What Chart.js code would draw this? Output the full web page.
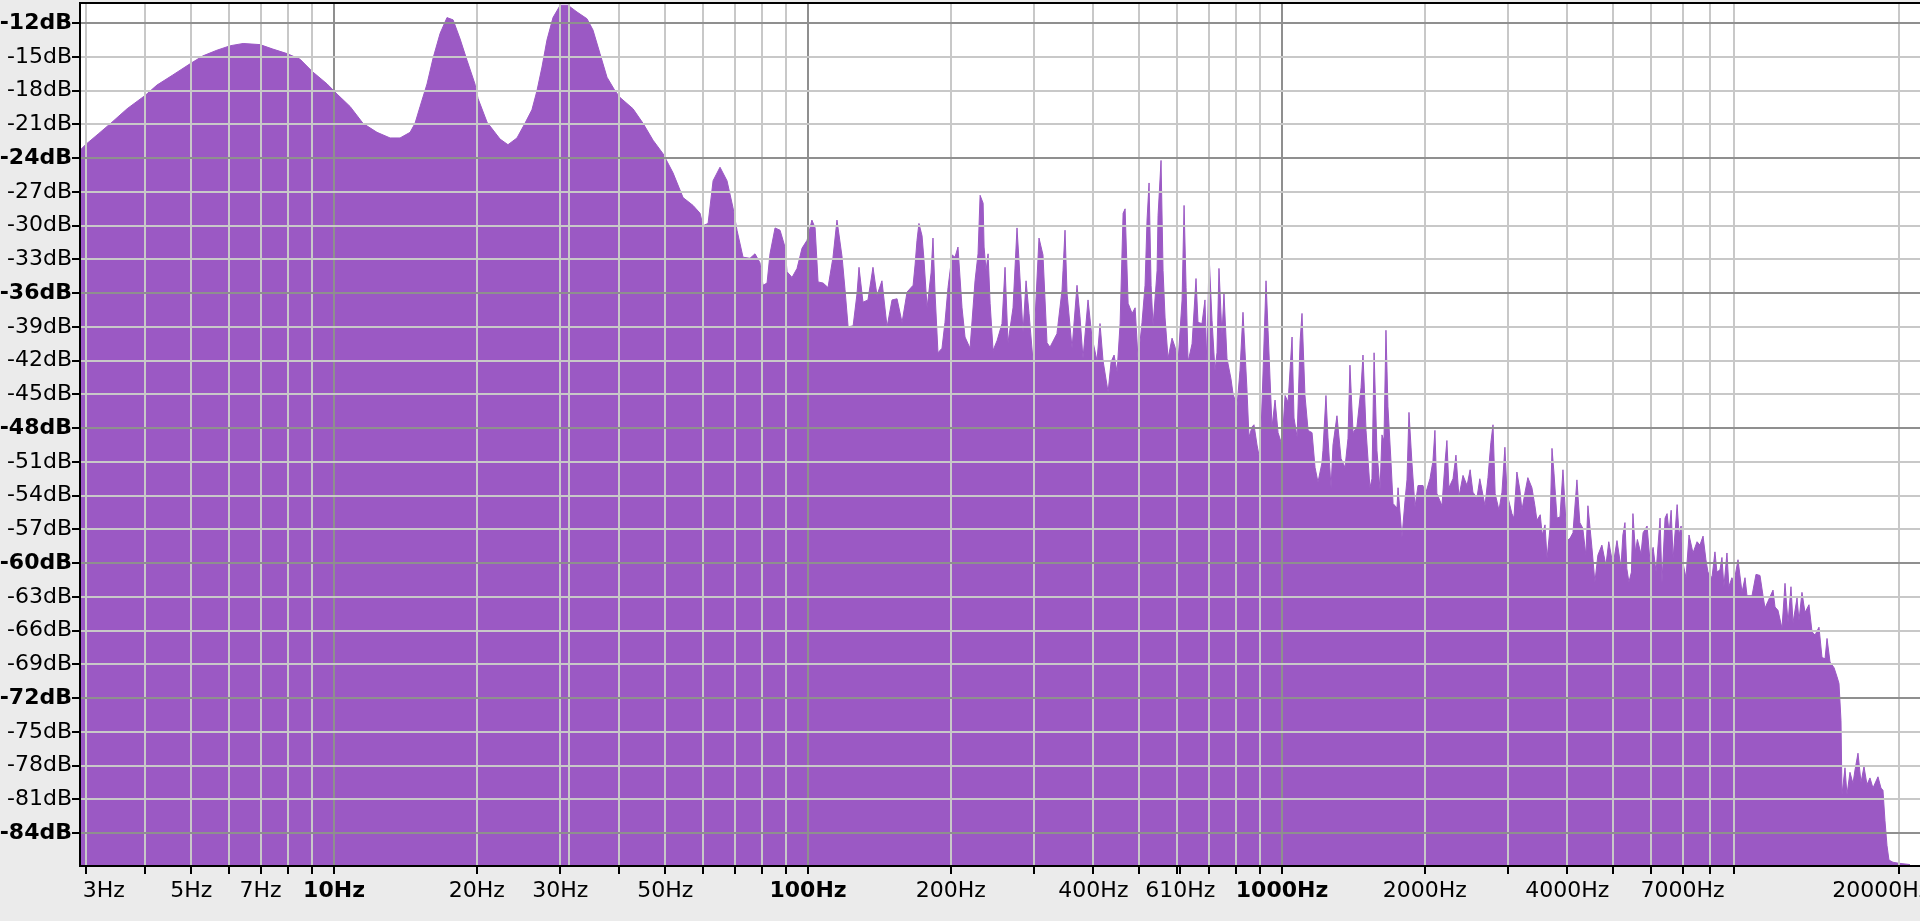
<!doctype html>
<html>
  <head>
    <script src="https://cdnjs.cloudflare.com/ajax/libs/Chart.js/4.0.1/chart.umd.js"></script>
    <style>
      body { margin: 0; background: #ebebeb; overflow: hidden; }
    </style>
    <script>
      // spectrum: frequency (Hz) and level (dB)
      let freqHz = [
        2.911, 2.99, 3.19, 3.40, 3.66, 4.0, 4.23, 4.57, 4.97, 5.29, 5.66, 6.04, 6.43, 6.98, 7.43, 7.96, 8.48, 9.0, 9.67,
        10.15, 10.81, 11.51, 12.32, 13.13, 13.78, 14.47, 14.82, 15.19, 15.71, 16.18, 16.74, 17.31, 17.83, 18.45, 19.08, 19.83,
        20.13, 21.03, 22.40, 23.28, 24.32, 25.28, 26.15, 26.80, 27.46, 28.13, 28.97, 30.0, 31.16, 32.55, 34.17, 35.18, 36.40,
        37.66, 39.15, 40.12, 42.73, 44.87, 47.10, 49.44, 51.90, 54.49, 57.21, 59.19, 60.06, 61.54, 63.05, 65.21, 67.46, 69.46,
        70.82, 72.92, 75.44, 77.29, 79.19, 80.35, 81.95, 83.13, 85.20, 87.28, 89.43, 90.31, 92.53, 94.80, 97.13, 99.52,
        101.9, 103.5, 105.0, 107.6, 110.2, 112.9, 115.1, 118.0, 119.7, 121.5, 124.5, 126.9, 128.1, 130.6, 133.8, 137.1,
        139.8, 143.2, 146.8, 150.4, 154.1, 157.9, 161.8, 166.6, 168.2, 169.8, 171.4, 174.0, 175.7, 178.3, 181.8, 183.5,
        185.3, 188.0, 191.7, 194.5, 197.4, 201.3, 204.2, 207.2, 211.3, 214.4, 219.7, 225.1, 228.4, 230.7, 234.1, 235.2,
        237.5, 239.8, 242.2, 245.7, 250.6, 256.6, 260.4, 264.2, 270.7, 276.0, 278.7, 284.2, 288.4, 292.6, 298.3, 307.1,
        313.1, 319.3, 323.9, 335.1, 343.5, 345.1, 348.5, 351.9, 360.6, 369.4, 374.8, 380.3, 389.7, 397.2, 407.1, 413.1,
        419.2, 429.6, 435.9, 442.3, 448.8, 455.4, 462.1, 466.6, 473.5, 482.8, 489.9, 497.1, 506.6, 514.1, 519.1, 524.2,
        529.4, 534.5, 545.0, 547.6, 555.6, 561.1, 566.6, 574.9, 586.1, 594.8, 603.5, 615.4, 621.4, 627.5, 633.6, 646.0,
        658.5, 664.9, 677.9, 687.8, 694.6, 701.4, 711.7, 722.1, 729.1, 736.2, 747.0, 754.3, 765.4, 780.3, 788.0, 803.5,
        815.3, 827.3, 843.5, 851.8, 864.3, 872.7, 885.6, 898.7, 911.9, 925.3, 934.4, 952.7, 966.7, 981.0,
        1000, 1015, 1030, 1050, 1060, 1076, 1092, 1102, 1118, 1135, 1157, 1174, 1191, 1214, 1220, 1238, 1250, 1269, 1281,
        1306, 1332, 1358, 1378, 1391, 1412, 1439, 1468, 1482, 1504, 1533, 1548, 1564, 1586, 1610, 1625, 1641, 1657, 1673,
        1698, 1715, 1748, 1757, 1791, 1818, 1835, 1853, 1880, 1908, 1936, 1984, 2003, 2052, 2082, 2102, 2122, 2175, 2207,
        2228, 2250, 2295, 2328, 2362, 2409, 2457, 2494, 2528, 2578, 2614, 2681, 2720, 2758, 2787, 2816, 2869, 2911, 2953,
        2983, 3055, 3085, 3130, 3176, 3207, 3253, 3301, 3367, 3416, 3450, 3506, 3540, 3588, 3624, 3676, 3712, 3748, 3803,
        3859, 3915, 3992, 4051, 4110, 4190, 4249, 4311, 4376, 4420, 4506, 4572, 4639, 4730, 4823, 4891, 4993, 5090, 5189,
        5238, 5291, 5340, 5394, 5460, 5500, 5567, 5620, 5720, 5778, 5891, 5977, 6066, 6154, 6275, 6333, 6429, 6492, 6556,
        6622, 6686, 6817, 6883, 6950, 7014, 7117, 7222, 7364, 7510, 7615, 7732, 7841, 7918, 8074, 8192, 8272, 8393, 8475,
        8556, 8684, 8766, 8895, 8987, 9163, 9343, 9480, 9572, 9808, 10000, 10196, 10346, 10447, 10600, 10862, 10967, 11127,
        11347, 11513, 11683, 11852, 11971, 12205, 12322, 12503, 12688, 12936, 13126, 13320, 13580, 13780, 13985, 14120,
        14327, 14610, 14822, 14966, 15112, 15185, 15408, 15559, 15786, 16018, 16176, 16413, 16653, 16898, 17146, 17397,
        17652, 18086, 18352, 18530, 18712, 18894, 19077, 19454, 20125, 21130
      ];
      let levelDb = [
        -23.3, -22.8, -21.8, -20.8, -19.6, -18.4, -17.5, -16.6, -15.6, -14.9, -14.4, -14.0, -13.8, -13.9, -14.3, -14.7, -15.2, -16.3, -17.4,
        -18.3, -19.4, -20.9, -21.7, -22.2, -22.2, -21.7, -20.9, -19.4, -17.4, -15.1, -12.9, -11.5, -11.7, -13.4, -15.3, -17.4,
        -18.7, -20.8, -22.3, -22.8, -22.2, -20.9, -19.7, -18.0, -15.9, -13.5, -11.5, -10.4, -10.4, -11.0, -11.6, -12.6, -14.7,
        -16.8, -18.0, -18.6, -19.6, -20.9, -22.4, -23.6, -25.3, -27.5, -28.2, -28.9, -30.0, -29.8, -26.0, -24.8, -26.0, -28.4,
        -30.4, -32.8, -32.9, -32.5, -33.3, -35.3, -35.1, -32.5, -30.2, -30.4, -31.9, -34.1, -34.6, -33.8, -32.0, -31.3,
        -29.5, -30.2, -35.0, -35.1, -35.5, -32.8, -29.5, -32.8, -35.7, -39.0, -38.9, -36.0, -33.7, -36.8, -36.6, -33.7,
        -36.2, -34.9, -39.0, -36.6, -36.5, -38.6, -35.9, -35.3, -33.5, -31.3, -29.8, -30.9, -33.1, -37.3, -34.2, -31.1,
        -35.9, -41.3, -40.9, -38.6, -35.5, -32.6, -32.8, -31.9, -37.3, -39.9, -40.9, -34.9, -32.5, -27.3, -28.0, -31.9,
        -34.0, -32.5, -36.9, -41.1, -40.2, -38.7, -33.7, -40.4, -37.3, -30.2, -33.1, -39.5, -34.9, -37.8, -42.0, -31.1,
        -32.6, -40.4, -40.8, -39.6, -35.7, -34.0, -30.4, -36.0, -40.9, -35.3, -38.1, -41.8, -36.6, -39.9, -42.0, -38.7,
        -42.0, -44.8, -42.1, -41.5, -43.0, -38.7, -28.9, -28.5, -36.9, -37.8, -37.3, -42.0, -38.6, -35.3, -29.5, -26.2,
        -35.3, -38.9, -34.0, -29.1, -24.2, -34.0, -38.2, -41.8, -40.0, -40.8, -42.1, -36.6, -28.2, -35.5, -42.1, -40.5,
        -34.7, -38.6, -38.7, -36.6, -42.7, -32.5, -38.4, -42.9, -41.3, -33.8, -39.7, -36.0, -41.8, -43.6, -44.9, -46.1,
        -42.9, -37.7, -44.6, -48.8, -47.9, -47.7, -49.5, -50.9, -43.1, -34.9, -39.3, -47.9, -45.5, -48.4,
        -49.5, -45.1, -45.7, -39.9, -47.1, -48.8, -40.2, -37.8, -45.1, -48.2, -48.4, -51.5, -52.8, -51.1, -50.0, -45.1, -48.8, -53.3, -49.5,
        -46.9, -50.7, -51.5, -48.9, -42.4, -48.4, -47.9, -44.4, -41.5, -48.2, -53.3, -52.5, -41.3, -50.0, -53.5, -48.6, -49.1, -39.3, -46.1,
        -51.0, -54.7, -55.1, -53.3, -57.7, -54.4, -52.6, -46.6, -51.1, -55.0, -53.1, -53.1, -54.0, -52.5, -50.9, -48.2, -53.8, -54.9, -51.1,
        -49.1, -53.3, -52.5, -50.4, -54.1, -52.2, -53.1, -51.7, -53.7, -54.2, -52.5, -54.9, -52.4, -49.3, -47.7, -53.8, -55.3, -53.7, -49.7,
        -53.8, -55.6, -56.0, -51.9, -53.5, -55.3, -53.8, -52.4, -53.3, -54.9, -56.2, -55.7, -57.5, -56.6, -59.6, -56.9, -49.8, -52.0, -56.0,
        -55.9, -51.7, -58.0, -57.8, -57.3, -52.6, -56.4, -56.9, -59.3, -54.9, -58.6, -61.7, -59.3, -58.4, -60.2, -58.1, -60.2, -58.0, -60.4,
        -57.5, -56.4, -60.5, -61.7, -60.8, -55.6, -59.0, -57.9, -59.2, -57.3, -56.7, -59.9, -58.6, -60.8, -56.0, -61.8, -56.0, -55.6, -57.3,
        -55.3, -59.6, -54.8, -57.5, -56.7, -60.0, -61.3, -57.5, -59.1, -58.1, -58.4, -57.6, -59.7, -60.8, -61.3, -59.0, -60.8, -60.6, -59.5,
        -62.1, -59.1, -62.1, -61.3, -61.7, -59.7, -62.6, -61.3, -62.9, -62.9, -61.0, -61.1, -62.9, -64.0, -63.4, -62.4, -63.9, -64.2,
        -65.8, -61.8, -65.3, -62.1, -65.3, -63.1, -65.1, -62.6, -64.4, -63.7, -66.1, -66.4, -65.7, -68.4, -68.5, -66.7,
        -68.8, -69.3, -70.1, -70.7, -74.0, -80.6, -78.2, -80.6, -78.6, -79.6, -78.4, -76.9, -79.5, -78.1, -79.7, -79.1,
        -80.0, -79.0, -80.0, -80.2, -82.9, -85.1, -86.4, -86.6, -86.7, -86.8
      ];

      // axis ticks; an empty text means a tick or grid line without a label
      let xTickValues = [3, 4, 5, 6, 7, 8, 9, 10, 20, 30, 31.3, 40, 50, 60, 70, 80, 90, 100, 200, 300, 400, 500, 600, 610,
        700, 800, 900, 1000, 2000, 3000, 4000, 5000, 6000, 7000, 8000, 9000, 20000];
      let xTickText = ['3Hz', '', '5Hz', '', '7Hz', '', '', '10Hz', '20Hz', '30Hz', '', '', '50Hz', '', '', '', '', '100Hz',
        '200Hz', '', '400Hz', '', '', '610Hz', '', '', '', '1000Hz', '2000Hz', '', '4000Hz', '', '', '7000Hz', '', '', '20000Hz'];
      let xMajor = [10, 100, 1000];
      let yTickValues = [-12, -15, -18, -21, -24, -27, -30, -33, -36, -39, -42, -45, -48, -51, -54, -57, -60, -63, -66,
        -69, -72, -75, -78, -81, -84];
      let yMajor = [-12, -24, -36, -48, -60, -72, -84];

      let purple = '#9b59c4';
      let chart1;

      function tickVal(c) {
        return c && c.tick ? c.tick.value : null;
      }

      // white plot area and the black top edge
      let framePlugin = {
        id: 'frame',
        beforeDraw(chart) {
          let a = chart.chartArea, ctx = chart.ctx;
          ctx.save();
          ctx.fillStyle = '#ffffff';
          ctx.fillRect(a.left, a.top, a.right - a.left, a.bottom - a.top);
          ctx.restore();
        },
        afterDraw(chart) {
          let a = chart.chartArea, ctx = chart.ctx;
          ctx.save();
          ctx.strokeStyle = '#000';
          ctx.lineWidth = 2;
          ctx.beginPath();
          ctx.moveTo(a.left - 1, a.top);
          ctx.lineTo(a.right, a.top);
          ctx.stroke();
          ctx.restore();
        }
      };

      function startPage() {
        let points = freqHz.map((f, i) => ({ x: f, y: levelDb[i] }));
        chart1 = new Chart(document.getElementById('c1'), {
          type: 'line',
          data: {
            datasets: [{
              data: points,
              fill: 'start',
              backgroundColor: purple,
              borderColor: purple,
              borderWidth: 1,
              pointRadius: 0,
              tension: 0
            }]
          },
          options: {
            responsive: false,
            animation: false,
            layout: { padding: { top: 3, left: 0, right: 0, bottom: 0 } },
            plugins: { legend: { display: false }, tooltip: { enabled: false } },
            scales: {
              x: {
                type: 'logarithmic',
                min: 2.911,
                max: 22182,
                afterBuildTicks: s => { s.ticks = xTickValues.map(v => ({ value: v })); },
                afterFit: s => { s.height = 55; s.paddingLeft = 0; s.paddingRight = 0; },
                border: { color: '#000', width: 2, z: 2 },
                grid: {
                  z: 1,
                  lineWidth: 2,
                  tickLength: 8,
                  tickWidth: 2,
                  color: c => tickVal(c) == 610 ? 'rgba(0,0,0,0)' : (xMajor.includes(tickVal(c)) ? '#8f8f8f' : '#c8c8c8'),
                  tickColor: c => tickVal(c) == 31.3 ? 'rgba(0,0,0,0)' : '#000'
                },
                ticks: {
                  autoSkip: false,
                  maxRotation: 0,
                  padding: 4,
                  color: '#000',
                  font: c => ({ family: 'DejaVu Sans', size: 22, weight: xMajor.includes(tickVal(c)) ? 'bold' : 'normal' }),
                  callback: (v, i) => {
                    let t = xTickText[i];
                    // the end labels sit pushed inwards, as in the picture
                    if (i == 0) return '     ' + t;
                    if (i == xTickValues.length - 1) return t + '     ';
                    return t;
                  }
                }
              },
              y: {
                min: -86.93,
                max: -10.2,
                afterBuildTicks: s => { s.ticks = yTickValues.map(v => ({ value: v })); },
                afterFit: s => { s.width = 80; s.paddingTop = 0; s.paddingBottom = 0; },
                border: { color: '#000', width: 2, z: 2 },
                grid: {
                  z: 1,
                  lineWidth: 2,
                  tickLength: 8,
                  tickWidth: 2,
                  tickColor: '#000',
                  color: c => yMajor.includes(tickVal(c)) ? '#8f8f8f' : '#c8c8c8'
                },
                ticks: {
                  padding: 0,
                  color: '#000',
                  font: c => ({ family: 'DejaVu Sans', size: 22, weight: yMajor.includes(tickVal(c)) ? 'bold' : 'normal' }),
                  callback: v => v + 'dB'
                }
              }
            }
          },
          plugins: [framePlugin]
        });
      }
    </script>
  </head>
  <body onload="startPage()">
    <canvas id="c1" width="1920" height="921"></canvas>
  </body>
</html>
